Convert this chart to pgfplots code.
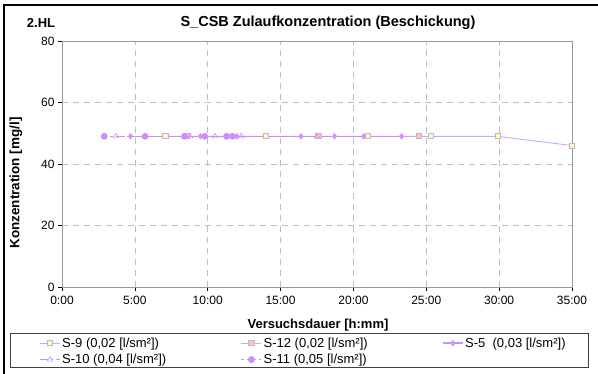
\documentclass[border=0pt]{standalone}
\usepackage{fontspec}
\setmainfont{Liberation Sans}
\usepackage{pgfplots}
\pgfplotsset{compat=1.18}
\definecolor{gridc}{RGB}{190,190,190}
\definecolor{lavl}{RGB}{200,170,245}
\definecolor{lavd}{RGB}{204,140,255}
\definecolor{fyel}{RGB}{255,255,160}
\definecolor{forg}{RGB}{255,200,150}
\definecolor{fvio}{RGB}{215,150,255}
\begin{document}
\begin{tikzpicture}[x=1bp,y=1bp]
\path[use as bounding box] (0,0) rectangle (598,373);
\draw[line width=2.2bp] (4,-5) -- (4,368) -- (605,368);
\node[font=\fontsize{13bp}{15bp}\selectfont\bfseries] at (41,350) {2.HL};
\node[font=\fontsize{14.5bp}{17bp}\selectfont\bfseries] at (328,350) {S\_CSB Zulaufkonzentration (Beschickung)};
\node[font=\fontsize{13.5bp}{15bp}\selectfont\bfseries, rotate=90] at (16,190) {Konzentration [mg/l]};
\node[font=\fontsize{13bp}{15bp}\selectfont\bfseries] at (318,48) {Versuchsdauer [h:mm]};
\begin{axis}[
  at={(62bp,86bp)}, anchor=south west,
  scale only axis, width=510bp, height=246bp,
  xmin=0, xmax=35, ymin=0, ymax=80,
  xtick={0,5,...,35},
  xticklabels={0:00,5:00,10:00,15:00,20:00,25:00,30:00,35:00},
  ytick={0,20,...,80},
  /pgf/number format/assume math mode=true,
  tick label style={font=\fontsize{12bp}{14bp}\selectfont},
  xticklabel style={yshift=-2bp},
  grid=major,
  major grid style={gridc, dash pattern=on 6bp off 5bp, line width=0.6bp},
  axis line style={gray!80, line width=0.7bp},
  tick style={black, line width=0.6bp},
  tick align=outside, major tick length=4bp,
  xtick pos=bottom, ytick pos=left,
  legend columns=3,
  legend image code/.code={\draw[mark repeat=2,mark phase=2] plot coordinates {(0bp,0bp) (10bp,0bp) (20bp,0bp)};},
  legend style={at={(-26bp,-47bp)}, anchor=north west, draw=none, fill=none,
    font=\fontsize{13bp}{15bp}\selectfont, row sep=2.5bp,
    nodes={inner sep=1.5bp},
    /tikz/every even column/.append style={column sep=0bp}},
  legend cell align=left,
  clip=false,
]
\addplot[lavl, line width=0.9bp, mark=square*, mark size=2.6bp, mark options={fill=fyel, draw=lavl, solid}]
  coordinates {(7.1,49) (14.0,49) (21.0,49) (25.3,49) (29.9,49) (35,46)};
\addlegendentry{\makebox[177bp][l]{S-9 (0,02 [l/sm²])}}
\addplot[lavl, line width=0.9bp, mark=square*, mark size=2.6bp, mark options={fill=forg, draw=lavl, solid}]
  coordinates {(8.6,49) (17.6,49) (24.5,49)};
\addlegendentry{\makebox[177bp][l]{S-12 (0,02 [l/sm²])}}
\addplot[lavd, line width=1.5bp, mark=diamond*, mark size=2.8bp, mark options={fill=fvio, draw=lavd, solid, line width=0.6bp}]
  coordinates {(4.7,49) (9.5,49) (12.0,49) (16.4,49) (18.7,49) (20.7,49) (23.3,49)};
\addlegendentry{S-5~ (0,03 [l/sm²])}
\addplot[lavd, line width=1.5bp, dash pattern=on 8bp off 3bp on 2bp off 3bp, mark=triangle, mark size=3bp, mark options={draw=lavd, fill=white, solid, line width=0.6bp}]
  coordinates {(3.7,49) (8.8,49) (10.5,49) (12.3,49) (17.5,49)};
\addlegendentry{S-10 (0,04 [l/sm²])}
\addplot[lavd, line width=1.5bp, dash pattern=on 3bp off 3bp, mark=*, mark size=2.6bp, mark options={fill=lavd, draw=lavd, solid}]
  coordinates {(2.9,49) (5.7,49) (8.4,49) (9.8,49) (11.3,49) (11.7,49)};
\addlegendentry{S-11 (0,05 [l/sm²])}
\end{axis}
\draw[black!75, line width=0.9bp] (10,6) rectangle (588,40);
\end{tikzpicture}
\end{document}
